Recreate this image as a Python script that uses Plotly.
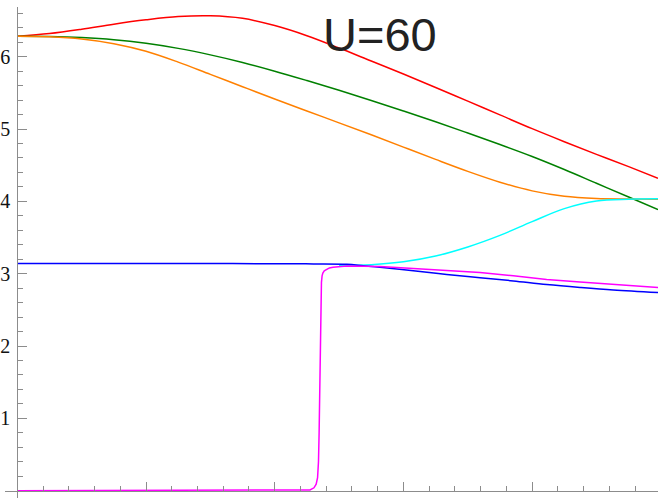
import plotly.graph_objects as go

# ---- data ----
grid_x = [0.0, 0.25, 0.5, 0.75, 1.0, 1.25, 1.5, 1.75, 2.0, 2.25, 2.5, 2.75, 3.0, 3.25, 3.5, 3.75, 4.0, 4.25, 4.5, 4.75, 4.978]

red_y = [6.283, 6.32, 6.38, 6.45, 6.51, 6.555, 6.565, 6.53, 6.43, 6.29, 6.12, 5.94, 5.76, 5.575, 5.385, 5.195, 5.005, 4.825, 4.65, 4.48, 4.32]
green_y = [6.283, 6.28, 6.265, 6.235, 6.185, 6.115, 6.025, 5.92, 5.80, 5.67, 5.535, 5.395, 5.25, 5.10, 4.945, 4.785, 4.62, 4.44, 4.25, 4.06, 3.885]
orange_y = [6.283, 6.275, 6.245, 6.18, 6.075, 5.925, 5.755, 5.585, 5.415, 5.25, 5.085, 4.92, 4.75, 4.58, 4.415, 4.265, 4.145, 4.07, 4.04, 4.033, 4.03]

cyan_x = [2.5, 2.75, 3.0, 3.25, 3.5, 3.75, 4.0, 4.25, 4.5, 4.75, 4.978]
cyan_y = [3.11, 3.125, 3.165, 3.245, 3.37, 3.53, 3.72, 3.90, 4.005, 4.03, 4.035]

blue_x = [0.0, 0.5, 1.0, 1.5, 2.0, 2.3, 2.56, 2.689, 2.818, 3.077, 3.336, 3.595, 3.854, 4.113, 4.372, 4.631, 4.978]
blue_y = [3.1416, 3.1416, 3.141, 3.14, 3.138, 3.135, 3.13, 3.11, 3.09, 3.04, 2.99, 2.945, 2.90, 2.85, 2.81, 2.775, 2.74]

magenta_x = [0.0, 1.0, 2.0, 2.2, 2.274, 2.305, 2.322, 2.333, 2.340, 2.345, 2.348, 2.351, 2.353, 2.356, 2.359, 2.363, 2.368, 2.374, 2.385, 2.403, 2.425, 2.453, 2.50, 2.56,
             2.818, 3.077, 3.336, 3.595, 3.854, 4.113, 4.372, 4.631, 4.978]
magenta_y = [0.0, 0.0, 0.0, 0.002, 0.01, 0.04, 0.09, 0.18, 0.40, 0.80, 1.20, 1.70, 2.05, 2.40, 2.70, 2.88, 2.97, 3.01, 3.04, 3.06, 3.08, 3.09, 3.10, 3.105,
             3.10, 3.075, 3.05, 3.015, 2.97, 2.92, 2.885, 2.85, 2.81]

y_major = [1, 2, 3, 4, 5, 6]
y_labels = ["1", "2", "3", "4", "5", "6"]
y_minor = [round(0.2 * i, 1) for i in range(1, 34) if i % 5 != 0]
x_major = [1, 2, 3, 4]
x_minor = [round(0.2 * i, 1) for i in range(1, 25) if i % 5 != 0]

title_text = "U=60"

AXIS = "#8c8c8c"

fig = go.Figure()
fig.add_trace(go.Scatter(x=grid_x, y=red_y, mode="lines", line=dict(color="#ff0000", width=1.5, shape="spline")))
fig.add_trace(go.Scatter(x=grid_x, y=green_y, mode="lines", line=dict(color="#008000", width=1.5, shape="spline")))
fig.add_trace(go.Scatter(x=grid_x, y=orange_y, mode="lines", line=dict(color="#ff8000", width=1.5, shape="spline")))
fig.add_trace(go.Scatter(x=cyan_x, y=cyan_y, mode="lines", line=dict(color="#00ffff", width=1.5, shape="spline")))
fig.add_trace(go.Scatter(x=blue_x, y=blue_y, mode="lines", line=dict(color="#0000ff", width=1.5, shape="spline")))
fig.add_trace(go.Scatter(x=magenta_x, y=magenta_y, mode="lines", line=dict(color="#ff00ff", width=1.5)))

fig.update_layout(
    width=658, height=498,
    margin=dict(l=0, r=0, t=0, b=0),
    paper_bgcolor="white", plot_bgcolor="white",
    showlegend=False,
    xaxis=dict(
        domain=[5 / 658, 1], range=[-0.0956, 4.978],
        anchor="free", position=(498 - 490.7) / 498,
        showgrid=False, zeroline=False,
        showline=True, linecolor=AXIS, linewidth=1,
        tickmode="array", tickvals=x_major, showticklabels=False,
        ticks="inside", ticklen=9, tickcolor=AXIS, tickwidth=1,
        minor=dict(tickmode="array", tickvals=x_minor, ticks="inside", ticklen=5, tickcolor=AXIS, tickwidth=1, showgrid=False),
    ),
    yaxis=dict(
        domain=[0, 1 - 7 / 498], range=[-0.1009, 6.687],
        anchor="free", position=17.3 / 658,
        showgrid=False, zeroline=False,
        showline=True, linecolor=AXIS, linewidth=1,
        tickmode="array", tickvals=y_major, ticktext=y_labels,
        ticks="inside", ticklen=9, tickcolor=AXIS, tickwidth=1,
        ticklabelstandoff=3,
        tickfont=dict(family="Liberation Serif", size=20, color="#111"),
        minor=dict(tickmode="array", tickvals=y_minor, ticks="inside", ticklen=5, tickcolor=AXIS, tickwidth=1, showgrid=False),
    ),
    annotations=[dict(
        text=title_text, xref="paper", yref="paper", x=380 / 658, y=1 - 34.5 / 498,
        xanchor="center", yanchor="middle", showarrow=False,
        font=dict(family="Liberation Sans", size=47, color="#222"),
    )],
)

fig.write_html(
    "out.html",
    config={"displayModeBar": False},
    post_script="document.body.style.margin='0';document.body.style.padding='0';document.body.style.overflow='hidden';",
)
